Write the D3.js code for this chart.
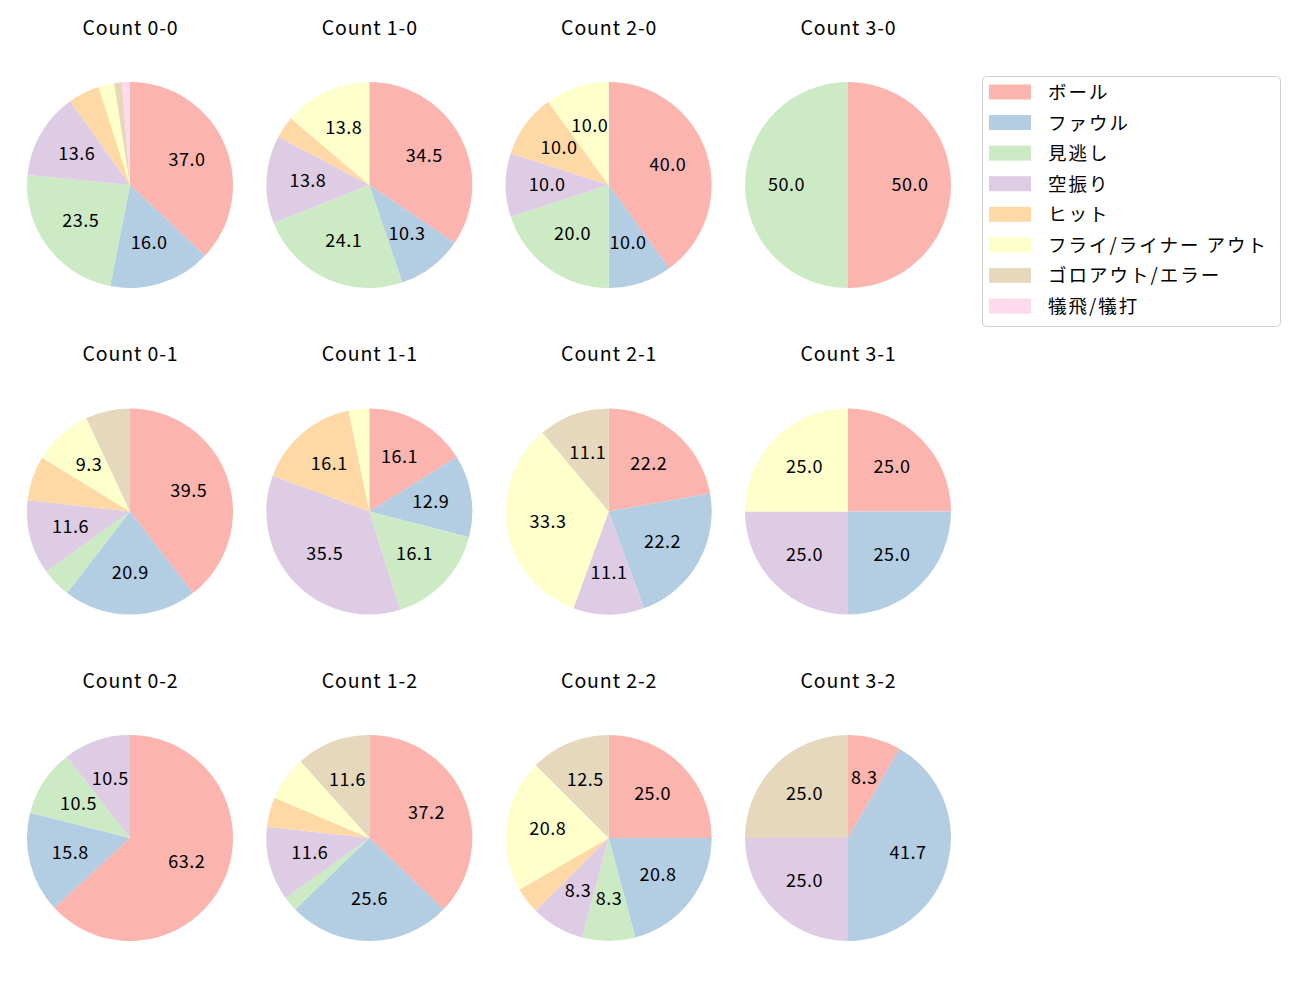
<!DOCTYPE html>
<html><head><meta charset="utf-8">
<script src="https://cdn.jsdelivr.net/npm/d3@7"></script>
<style>body{margin:0;background:#fff;} text{font-family:"Noto Sans CJK JP","Noto Sans",sans-serif;}</style>
</head><body>
<svg id="chart" width="1300" height="1000"></svg>
<script>
const categories = ["ボール","ファウル","見逃し","空振り","ヒット","フライ/ライナー アウト","ゴロアウト/エラー","犠飛/犠打"];
const colors = ["#fbb4ae","#b3cde3","#ccebc5","#decbe4","#fed9a6","#ffffcc","#e5d8bd","#fddaec"];
const titles = ["Count 0-0","Count 1-0","Count 2-0","Count 3-0",
                "Count 0-1","Count 1-1","Count 2-1","Count 3-1",
                "Count 0-2","Count 1-2","Count 2-2","Count 3-2"];
// counts per category for each panel (order follows categories)
const c00 = [30,13,19,11,4,2,1,1];
const c10 = [10,3,7,4,1,4,0,0];
const c20 = [4,1,2,1,1,1,0,0];
const c30 = [1,0,1,0,0,0,0,0];
const c01 = [17,9,2,5,3,4,3,0];
const c11 = [5,4,5,11,5,1,0,0];
const c21 = [2,2,0,1,0,3,1,0];
const c31 = [1,1,0,1,0,1,0,0];
const c02 = [12,3,2,2,0,0,0,0];
const c12 = [16,11,1,5,2,3,5,0];
const c22 = [6,5,2,2,1,5,3,0];
const c32 = [1,5,0,3,0,0,3,0];
const panels = [c00,c10,c20,c30,c01,c11,c21,c31,c02,c12,c22,c32];

const svg = d3.select("#chart");
const colX = d3.scaleLinear().domain([0,3]).range([130,848]);
const rowY = d3.scaleLinear().domain([0,2]).range([185,838]);
const R = 103;
const pie = d3.pie().sort(null).value(d=>d.v).startAngle(0).endAngle(2*Math.PI);
const arc = d3.arc().innerRadius(0).outerRadius(R);
const labelArc = d3.arc().innerRadius(R*0.6).outerRadius(R*0.6);

panels.forEach((vals,i)=>{
  const cx = colX(i%4), cy = rowY(Math.floor(i/4));
  const total = d3.sum(vals);
  const data = vals.map((v,k)=>({v,k}));
  const g = svg.append("g").attr("transform",`translate(${cx},${cy})`);
  const arcs = pie(data).filter(a=>a.data.v>0);
  g.selectAll("path").data(arcs).join("path")
    .attr("d",arc).attr("fill",d=>colors[d.data.k]);
  g.selectAll("text.lbl").data(arcs.filter(a=>a.data.v/total*100>8)).join("text")
    .attr("class","lbl")
    .attr("transform",d=>{const c=labelArc.centroid(d);return `translate(${c[0]+0.25},${c[1]-2.5})`;})
    .attr("text-anchor","middle").attr("dominant-baseline","central")
    .attr("font-size",18).attr("letter-spacing","0.5px").attr("fill","#000")
    .text(d=>(d.data.v/total*100).toFixed(1));
  svg.append("text").attr("x",cx+0.5).attr("y",cy-159)
    .attr("text-anchor","middle").attr("dominant-baseline","central")
    .attr("font-size",19.5).attr("letter-spacing","0.9px").attr("fill","#000").text(titles[i]);
});

// legend
const lg = svg.append("g");
lg.append("rect").attr("x",982.5).attr("y",76.5).attr("width",298).attr("height",250)
  .attr("rx",4).attr("fill","#fff").attr("stroke","#d0d0d0");
const ly = d3.scaleLinear().domain([0,7]).range([92,306]);
categories.forEach((c,k)=>{
  lg.append("rect").attr("x",989).attr("y",ly(k)-7.5).attr("width",42).attr("height",15).attr("fill",colors[k]);
  lg.append("text").attr("x",1048).attr("y",ly(k)-1).attr("dominant-baseline","central")
    .attr("font-size",18.5).attr("letter-spacing","2px").attr("fill","#000").text(c);
});
</script>
</body></html>
